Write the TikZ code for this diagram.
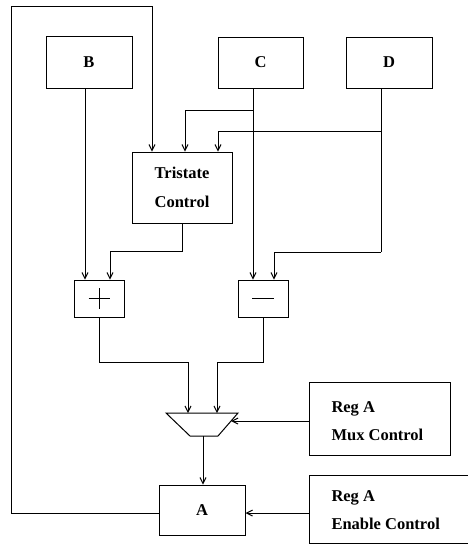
\documentclass[tikz,border=0pt]{standalone}
\usepackage{fontspec}
\setmainfont{Liberation Serif}
\usetikzlibrary{arrows.meta,calc}
\begin{document}
\begin{tikzpicture}[x=1pt,y=-1pt,
  line width=1pt,
  >={Straight Barb[length=6pt,width=6pt]},
  box/.style={draw,minimum width=#1,inner sep=0pt},
  lbl/.style={font=\fontsize{16.5}{28}\selectfont\bfseries},
]
\useasboundingbox (0,0) rectangle (467,547);
% boxes
\node[box=86pt,minimum height=52pt,lbl] (B) at (89,62) {B};
\node[box=85pt,minimum height=51pt,lbl] (C) at (260.5,62.5) {C};
\node[box=86pt,minimum height=51pt,lbl] (D) at (389,62.5) {D};
\node[box=100pt,minimum height=71pt,lbl,align=center,font=\fontsize{16.5}{29}\selectfont\bfseries] (tri) at (182,187.5) {Tristate\\Control};
\node[box=50pt,minimum height=37pt] (plus) at (99,298.5) {};
\node[box=50pt,minimum height=37pt] (minus) at (263,298.5) {};
\node[box=141pt,minimum height=73pt] (muxctl) at (379.5,418.5) {};
\node[lbl,align=left,anchor=west,inner sep=0pt] (muxtxt) at (331,421) {Reg A\\Mux Control};
\node[box=86pt,minimum height=50pt,lbl] (A) at (202,510) {A};
% enable control box (cut at right edge)
\coordinate (enNW) at (309,475);
\coordinate (enSW) at (309,543);
\draw (470,475) -- (enNW) -- (enSW) -- (470,543);
\node[lbl,align=left,anchor=west,inner sep=0pt] (entxt) at (331,510) {Reg A\\Enable Control};
% plus and minus glyphs
\draw ([xshift=-10.5pt]plus.center) -- ([xshift=10.5pt]plus.center);
\draw ([yshift=10.5pt]plus.center) -- ([yshift=-10.5pt]plus.center);
\draw ([xshift=-11pt]minus.center) -- ([xshift=11pt]minus.center);
% mux trapezoid
\coordinate (muxTL) at (166,413);
\coordinate (muxTR) at (238,413);
\coordinate (muxBR) at (218,436);
\coordinate (muxBL) at (190,436);
\draw (muxTL) -- (muxTR) -- (muxBR) -- (muxBL) -- cycle;
\coordinate (muxin1) at (188,413);
\coordinate (muxin2) at (217,413);
\coordinate (muxsel) at (231,421);
\coordinate (muxout) at (203,436);
% connectors
\coordinate (loopTL) at (11,6);
\draw[->] ([yshift=-3pt]A.west) -| (loopTL) -| ([xshift=-30pt]tri.north);
\coordinate (cx) at ([xshift=-7.5pt]C.south);
\draw[->] (cx) -- (cx |- minus.north);
\coordinate (cbr) at (cx |- 0,110);
\draw[->] (cbr) -| ([xshift=3pt]tri.north);
\coordinate (dx) at ([xshift=-8pt]D.south);
\coordinate (dbr) at (dx |- 0,131);
\draw[->] (dbr) -| ([xshift=36pt]tri.north);
\coordinate (dlow) at (dx |- 0,252);
\draw (dx) -- (dlow);
\draw[->] (dlow) -| ([xshift=11pt]minus.north);
\coordinate (bx) at ([xshift=-4pt]B.south);
\draw[->] (bx) -- (bx |- plus.north);
\coordinate (tlow) at ($(tri.south)+(0,28)$);
\draw (tri.south) -- (tlow);
\draw[->] (tlow) -| ([xshift=11pt]plus.north);
\coordinate (plow) at ($(plus.south)+(0,45)$);
\draw (plus.south) -- (plow);
\draw[->] (plow) -| (muxin1);
\coordinate (mlow) at ($(minus.south)+(0,45)$);
\draw (minus.south) -- (mlow);
\draw[->] (mlow) -| (muxin2);
\draw[->] (muxctl.west |- muxsel) -- (muxsel);
\draw[->] (muxout) -- (muxout |- A.north);
\draw[->] (enNW |- 0,513) -- ([yshift=-3pt]A.east);
\end{tikzpicture}
\end{document}
